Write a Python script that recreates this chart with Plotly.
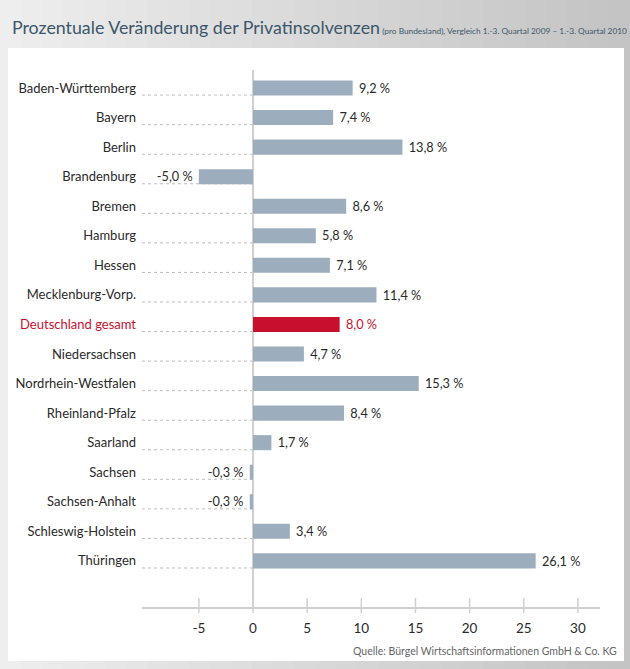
import plotly.graph_objects as go

laender = ["Baden-Württemberg", "Bayern", "Berlin", "Brandenburg", "Bremen", "Hamburg",
           "Hessen", "Mecklenburg-Vorp.", "Deutschland gesamt", "Niedersachsen",
           "Nordrhein-Westfalen", "Rheinland-Pfalz", "Saarland", "Sachsen",
           "Sachsen-Anhalt", "Schleswig-Holstein", "Thüringen"]
werte = [9.2, 7.4, 13.8, -5.0, 8.6, 5.8, 7.1, 11.4, 8.0, 4.7, 15.3, 8.4, 1.7, -0.3, -0.3, 3.4, 26.1]
highlight = "Deutschland gesamt"
x_ticks = [-5, 0, 5, 10, 15, 20, 25, 30]
x_ticktext = ["-5", "0", "5", "10", "15", "20", "25", "30"]

BAR = "#9cadbe"
RED = "#c8102e"
TXT = "#2a2a2a"
FONT = "Lato"

W, H = 630, 669
L, R, T, B = 142, 30, 70, 62
xmin, xmax = -10.25, 32.04

colors = [RED if c == highlight else BAR for c in laender]
tcolors = [RED if c == highlight else TXT for c in laender]
texts = [("\u00a0" if v >= 0 else "") + f"{v:.1f} %".replace(".", ",") + ("\u00a0" if v < 0 else "")
         for v in werte]
ticktext = [f"<span style='color:{RED}'>{c}</span>" if c == highlight else c for c in laender]

fig = go.Figure()
fig.add_trace(go.Bar(
    x=werte, y=laender, orientation="h",
    marker=dict(color=colors, line=dict(width=0)),
    text=texts, textposition="outside", textfont=dict(size=13.5, color=tcolors, family=FONT),
    cliponaxis=False, hoverinfo="skip",
))

pw = W - L - R
ph = H - T - B
shapes = []
# background gradient (grey frame)
n = 30
for i in range(n):
    g = int(238 - (238 - 196) * i / (n - 1))
    shapes.append(dict(type="rect", xref="paper", yref="paper", layer="below",
                       x0=(-L + i * W / n) / pw, x1=(-L + (i + 1) * W / n + 1) / pw,
                       y0=-B / ph, y1=(H - B) / ph,
                       fillcolor=f"rgb({g},{g},{g})", line=dict(width=0)))
# white panel
shapes.append(dict(type="rect", xref="paper", yref="paper", layer="below",
                   x0=(8 - L) / pw, x1=(624 - L) / pw,
                   y0=(H - B - 661) / ph, y1=(H - B - 48) / ph,
                   fillcolor="white", line=dict(width=0)))
# dotted leader lines
for i, c in enumerate(laender):
    shapes.append(dict(type="line", xref="x", yref="y", x0=xmin, x1=0,
                       y0=i + 0.24, y1=i + 0.24, layer="below",
                       line=dict(color="#bdbdbd", width=1, dash="dot")))
# tick marks crossing the axis
for v in x_ticks:
    shapes.append(dict(type="line", xref="x", yref="paper", ysizemode="pixel", yanchor=0,
                       x0=v, x1=v, y0=-6, y1=9, line=dict(color="#d0d0d0", width=1.5)))

annotations = [
    dict(text="Prozentuale Veränderung der Privatinsolvenzen"
              "<span style='font-size:8.3px'> (pro Bundesland), Vergleich 1.-3. Quartal 2009 – 1.-3. Quartal 2010</span>",
         xref="paper", yref="paper", x=(10 - L) / pw, y=(H - B - 27) / ph,
         xanchor="left", yanchor="middle", showarrow=False,
         font=dict(family=FONT, size=17.8, color="#3b566a")),
    dict(text="Quelle: Bürgel Wirtschaftsinformationen GmbH & Co. KG",
         xref="paper", yref="paper", x=(619 - L) / pw, y=(H - B - 651) / ph,
         xanchor="right", yanchor="middle", showarrow=False,
         font=dict(family=FONT, size=10.5, color="#666666")),
    dict(text="", xref="x", yref="paper", x=32.3, y=0, ax=-40, ay=0,
         axref="pixel", ayref="pixel", showarrow=True, arrowhead=2, arrowsize=1.3,
         arrowwidth=1.5, arrowcolor="#d0d0d0"),
]

fig.update_layout(
    width=W, height=H, margin=dict(l=L, r=R, t=T, b=B, autoexpand=False),
    paper_bgcolor="#d9d9d9", plot_bgcolor="rgba(0,0,0,0)",
    showlegend=False, bargap=0.49,
    font=dict(family=FONT, color=TXT),
    shapes=shapes, annotations=annotations,
    xaxis=dict(range=[xmin, xmax], tickvals=x_ticks, ticktext=x_ticktext, automargin=False,
               showgrid=False, zeroline=True, zerolinecolor="#d0d0d0", zerolinewidth=1.5,
               showline=True, linecolor="#d0d0d0", linewidth=1.5, ticks="",
               ticklabelstandoff=8, tickfont=dict(size=13.5, color=TXT), fixedrange=True),
    yaxis=dict(type="category", categoryorder="array", categoryarray=laender, automargin=False,
               range=[17.56, -0.609], tickvals=laender, ticktext=ticktext,
               showgrid=False, zeroline=False, showline=False, ticks="",
               ticklabelstandoff=5, tickfont=dict(size=13, color=TXT), fixedrange=True),
)

fig.write_html("out.html", config={"displayModeBar": False},
               post_script="document.body.style.margin='0';document.body.style.overflow='hidden';")
